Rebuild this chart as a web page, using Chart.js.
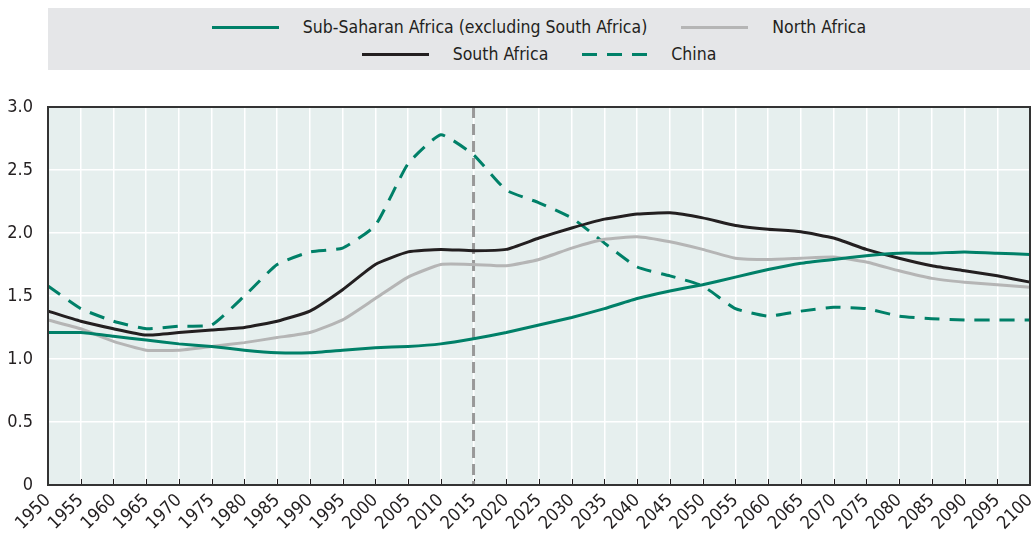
<!DOCTYPE html>
<html>
<head>
    <title>Fertility rates</title>
    <script src="https://cdn.jsdelivr.net/npm/chart.js"></script>
    <style>
        body { margin: 0; background: #fff; font-family: "Liberation Sans Narrow", "DejaVu Sans Condensed", sans-serif; }
        #wrap { position: relative; width: 1033px; height: 536px; }
        #legend {
            position: absolute; left: 48px; top: 8px; width: 982px; height: 62px; box-sizing: border-box; padding-top: 4px;
            background: #e5e6e8; display: flex; flex-direction: column; justify-content: center; gap: 6px;
        }
        .row { display: flex; justify-content: center; align-items: center; gap: 34px; }
        .item { display: flex; align-items: center; gap: 24px; font-size: 17.5px; color: #231f20; line-height: 21px; }
        .swatch { width: 67px; height: 3px; }
    </style>
</head>
<body>
<div id="wrap">
    <canvas id="chart" width="1033" height="536"></canvas>
    <div id="legend"></div>
</div>
<script>
    const years = ['1950','1955','1960','1965','1970','1975','1980','1985','1990','1995','2000','2005','2010','2015','2020',
                   '2025','2030','2035','2040','2045','2050','2055','2060','2065','2070','2075','2080','2085','2090','2095','2100'];

    const subSaharan = [1.21, 1.21, 1.18, 1.15, 1.12, 1.10, 1.07, 1.05, 1.05, 1.07, 1.09, 1.10, 1.12, 1.16, 1.21,
                        1.27, 1.33, 1.40, 1.48, 1.54, 1.59, 1.65, 1.71, 1.76, 1.79, 1.82, 1.84, 1.84, 1.85, 1.84, 1.83];
    const northAfrica = [1.31, 1.24, 1.14, 1.07, 1.07, 1.10, 1.13, 1.17, 1.21, 1.31, 1.48, 1.65, 1.75, 1.75, 1.74,
                         1.79, 1.88, 1.95, 1.97, 1.93, 1.87, 1.80, 1.79, 1.80, 1.81, 1.77, 1.70, 1.64, 1.61, 1.59, 1.57];
    const southAfrica = [1.38, 1.30, 1.24, 1.19, 1.21, 1.23, 1.25, 1.30, 1.38, 1.55, 1.75, 1.85, 1.87, 1.86, 1.87,
                         1.96, 2.04, 2.11, 2.15, 2.16, 2.12, 2.06, 2.03, 2.01, 1.96, 1.87, 1.80, 1.74, 1.70, 1.66, 1.61];
    const china = [1.58, 1.40, 1.30, 1.24, 1.26, 1.27, 1.50, 1.75, 1.85, 1.88, 2.06, 2.55, 2.78, 2.62, 2.34,
                   2.24, 2.12, 1.92, 1.73, 1.66, 1.58, 1.40, 1.34, 1.38, 1.41, 1.40, 1.34, 1.32, 1.31, 1.31, 1.31];

    const yTicks = [0, 0.5, 1.0, 1.5, 2.0, 2.5, 3.0];
    const projectionStart = '2015';

    const GREEN = 'rgb(0,128,104)';
    const BLACK = '#231f20';
    const GREY = '#b5b5b5';
    const FONT = '"Liberation Sans Narrow", "DejaVu Sans Condensed", sans-serif';

    const series = [
        { label: 'Sub-Saharan Africa (excluding South Africa)', data: subSaharan, color: GREEN, dash: [], row: 0 },
        { label: 'North Africa', data: northAfrica, color: GREY, dash: [], row: 0 },
        { label: 'South Africa', data: southAfrica, color: BLACK, dash: [], row: 1 },
        { label: 'China', data: china, color: GREEN, dash: [15, 10], row: 1 }
    ];

    // legend (two centred rows, like the original)
    const legend = document.getElementById('legend');
    const rows = [document.createElement('div'), document.createElement('div')];
    rows.forEach(r => { r.className = 'row'; legend.appendChild(r); });
    series.forEach(s => {
        const item = document.createElement('div');
        item.className = 'item';
        const sw = document.createElement('span');
        sw.className = 'swatch';
        sw.style.background = s.dash.length
            ? `repeating-linear-gradient(90deg, ${s.color} 0 15px, transparent 15px 25px)`
            : s.color;
        if (s.dash.length) sw.style.width = '65px';
        const txt = document.createElement('span');
        txt.textContent = s.label;
        item.appendChild(sw);
        item.appendChild(txt);
        rows[s.row].appendChild(item);
    });

    const plotDecor = {
        id: 'plotDecor',
        beforeDraw(chart) {
            const { ctx, chartArea: a } = chart;
            ctx.save();
            ctx.fillStyle = '#e6efee';
            ctx.fillRect(a.left, a.top, a.right - a.left, a.bottom - a.top);
            ctx.restore();
        },
        beforeDatasetsDraw(chart) {
            const { ctx, chartArea: a, scales } = chart;
            ctx.save();
            // small inner ticks on the x axis
            ctx.strokeStyle = '#231f20';
            ctx.lineWidth = 1;
            years.forEach((y, i) => {
                const x = Math.round(scales.x.getPixelForTick(i)) + 0.5;
                ctx.beginPath();
                ctx.moveTo(x, a.bottom);
                ctx.lineTo(x, a.bottom - 6);
                ctx.stroke();
            });
            // projection start line
            const px = scales.x.getPixelForValue(years.indexOf(projectionStart));
            ctx.strokeStyle = '#999999';
            ctx.lineWidth = 3;
            ctx.setLineDash([11, 6]);
            ctx.beginPath();
            ctx.moveTo(px, a.top);
            ctx.lineTo(px, a.bottom);
            ctx.stroke();
            ctx.restore();
        },
        afterDraw(chart) {
            const { ctx, chartArea: a } = chart;
            ctx.save();
            ctx.strokeStyle = '#333333';
            ctx.lineWidth = 2;
            ctx.strokeRect(a.left, a.top, a.right - a.left, a.bottom - a.top);
            ctx.restore();
        }
    };

    new Chart(document.getElementById('chart').getContext('2d'), {
        type: 'line',
        data: {
            labels: years,
            datasets: series.map(s => ({
                label: s.label,
                data: s.data,
                borderColor: s.color,
                borderDash: s.dash,
                borderWidth: 3,
                pointRadius: 0,
                tension: 0.15,
                fill: false
            }))
        },
        options: {
            responsive: false,
            animation: false,
            layout: { padding: { top: 107, right: 3, left: 0, bottom: 0 } },
            plugins: { legend: { display: false }, tooltip: { enabled: false } },
            scales: {
                x: {
                    offset: false,
                    grid: { color: '#ffffff', lineWidth: 1.5, drawTicks: false },
                    border: { display: false },
                    ticks: {
                        autoSkip: false, maxRotation: 45, minRotation: 45, padding: 5,
                        color: '#231f20', font: { family: FONT, size: 18 }
                    },
                    afterFit: s => { s.height = 51; s.paddingLeft = 0; s.paddingRight = 0; }
                },
                y: {
                    min: 0, max: 3,
                    afterBuildTicks: s => { s.ticks = yTicks.map(v => ({ value: v })); },
                    grid: { color: '#ffffff', lineWidth: 1.5, drawTicks: false },
                    border: { display: false },
                    ticks: {
                        padding: 15,
                        color: '#231f20',
                        font: { family: FONT, size: 18 },
                        callback: v => v === 0 ? '0' : v.toFixed(1)
                    },
                    afterFit: s => { s.width = 48; s.paddingTop = 0; s.paddingBottom = 0; }
                }
            }
        },
        plugins: [plotDecor]
    });
</script>
</body>
</html>
